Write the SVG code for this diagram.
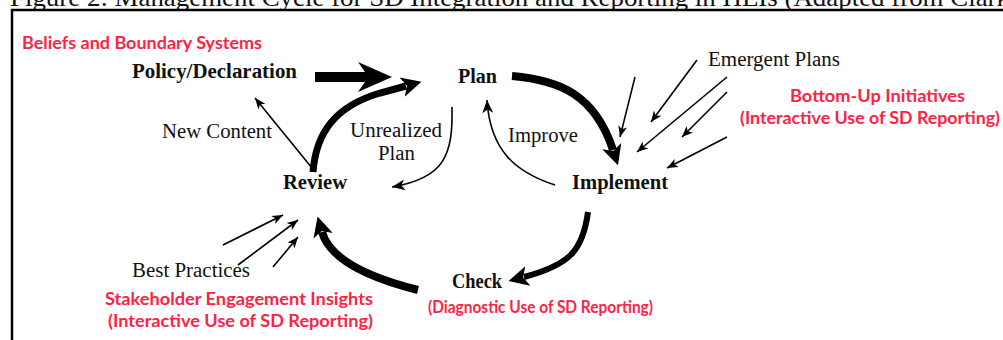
<svg xmlns="http://www.w3.org/2000/svg" width="1003" height="340" viewBox="0 0 1003 340">
<style>
.lbl{font-family:"Liberation Serif","Times New Roman",serif;font-size:20.5px;fill:#111}
.b{font-weight:bold}
.red{font-family:Lato,"Open Sans","Liberation Sans",sans-serif;font-weight:bold;font-size:16.5px;fill:#ff2244}
.thick{fill:none;stroke:#000;stroke-linecap:butt}
.thin{fill:none;stroke:#000;stroke-width:1.6}
</style>
<defs>
<marker id="bighead" markerUnits="userSpaceOnUse" markerWidth="22" markerHeight="22" refX="4" refY="10" orient="auto" viewBox="0 0 22 20">
<path d="M0,0 L20,10 L0,20 L5,10 Z" fill="#000"/>
</marker>
<marker id="smallhead" markerUnits="userSpaceOnUse" markerWidth="12" markerHeight="10" refX="11" refY="4.5" orient="auto" viewBox="0 0 12 9">
<path d="M0,0 L11,4.5 L0,9 L3,4.5 Z" fill="#000"/>
</marker>
<marker id="midhead" markerUnits="userSpaceOnUse" markerWidth="14" markerHeight="12" refX="13" refY="5.5" orient="auto" viewBox="0 0 14 11">
<path d="M0,0 L13,5.5 L0,11 L3.5,5.5 Z" fill="#000"/>
</marker>
</defs>
<rect width="1003" height="340" fill="#fff"/>
<g id="caption">
<text x="10" y="6" font-family="Liberation Serif, Times New Roman, serif" font-size="24.5" fill="#111" textLength="1000" lengthAdjust="spacingAndGlyphs">Figure 2: Management Cycle for SD Integration and Reporting in HEIs (Adapted from Clark</text>
</g>
<g id="frame">
<path d="M12,340 L12,10 L1003,10" fill="none" stroke="#000" stroke-width="2.5"/>
</g>
<g id="connectors">
<polygon points="315,72 365,72 358,62 392,77 358,92 365,82 315,82" fill="#000"/>
<path class="thick" d="M313,172 C316,132 336,106 380,93 L406,86" stroke-width="7" marker-end="url(#bighead)"/>
<path class="thick" d="M512,76 C560,80 595,95 613,150" stroke-width="8" marker-end="url(#bighead)"/>
<path class="thick" d="M588,212 C583,250 570,265 524,277" stroke-width="6" marker-end="url(#bighead)"/>
<path class="thick" d="M418,290 C370,278 330,260 322,232" stroke-width="8" marker-end="url(#bighead)"/>
<path class="thin" d="M452,107 C453,155 445,178 392,187" stroke-width="2.6" marker-end="url(#midhead)"/>
<path class="thin" d="M555,185 C515,172 490,150 487,100" stroke-width="2" marker-end="url(#midhead)"/>
<path class="thin" d="M312,168 L255,98" marker-end="url(#smallhead)"/>
<path class="thin" d="M635,77 L620,137" marker-end="url(#smallhead)"/>
<path class="thin" d="M697,60 L651,122" marker-end="url(#smallhead)"/>
<path class="thin" d="M727,77 L637,152" marker-end="url(#smallhead)"/>
<path class="thin" d="M727,92 L682,137" marker-end="url(#smallhead)"/>
<path class="thin" d="M727,137 L667,168" marker-end="url(#smallhead)"/>
<path class="thin" d="M223,245 L283,215" marker-end="url(#smallhead)"/>
<path class="thin" d="M238,265 L298,220" marker-end="url(#smallhead)"/>
<path class="thin" d="M273,267 L298,237" marker-end="url(#smallhead)"/>
</g>
<g id="beliefs">
<text class="red" x="22" y="49" textLength="240" lengthAdjust="spacingAndGlyphs">Beliefs and Boundary Systems</text>
</g>
<g id="policy">
<text class="lbl b" x="132" y="78" textLength="165" lengthAdjust="spacingAndGlyphs">Policy/Declaration</text>
</g>
<g id="plan">
<text class="lbl b" x="458" y="83" textLength="39" lengthAdjust="spacingAndGlyphs">Plan</text>
</g>
<g id="review">
<text class="lbl b" x="283" y="189" textLength="64" lengthAdjust="spacingAndGlyphs">Review</text>
</g>
<g id="implement">
<text class="lbl b" x="572" y="189" textLength="96" lengthAdjust="spacingAndGlyphs">Implement</text>
</g>
<g id="check">
<text class="lbl b" x="452" y="288" textLength="50" lengthAdjust="spacingAndGlyphs">Check</text>
<text class="red" x="428" y="313" textLength="225" lengthAdjust="spacingAndGlyphs">(Diagnostic Use of SD Reporting)</text>
</g>
<g id="new-content">
<text class="lbl" x="162" y="138" textLength="110" lengthAdjust="spacingAndGlyphs">New Content</text>
</g>
<g id="unrealized">
<text class="lbl" x="350" y="137" textLength="92" lengthAdjust="spacingAndGlyphs">Unrealized</text>
<text class="lbl" x="378" y="160" textLength="37" lengthAdjust="spacingAndGlyphs">Plan</text>
</g>
<g id="improve">
<text class="lbl" x="508" y="142" textLength="70" lengthAdjust="spacingAndGlyphs">Improve</text>
</g>
<g id="emergent">
<text class="lbl" x="708" y="66" textLength="132" lengthAdjust="spacingAndGlyphs">Emergent Plans</text>
</g>
<g id="bottom-up">
<text class="red" x="790" y="102" textLength="175" lengthAdjust="spacingAndGlyphs">Bottom-Up Initiatives</text>
<text class="red" x="740" y="124" textLength="260" lengthAdjust="spacingAndGlyphs">(Interactive Use of SD Reporting)</text>
</g>
<g id="best-practices">
<text class="lbl" x="132" y="277" textLength="118" lengthAdjust="spacingAndGlyphs">Best Practices</text>
<text class="red" x="105" y="305" textLength="268" lengthAdjust="spacingAndGlyphs">Stakeholder Engagement Insights</text>
<text class="red" x="108" y="327" textLength="265" lengthAdjust="spacingAndGlyphs">(Interactive Use of SD Reporting)</text>
</g>
</svg>
